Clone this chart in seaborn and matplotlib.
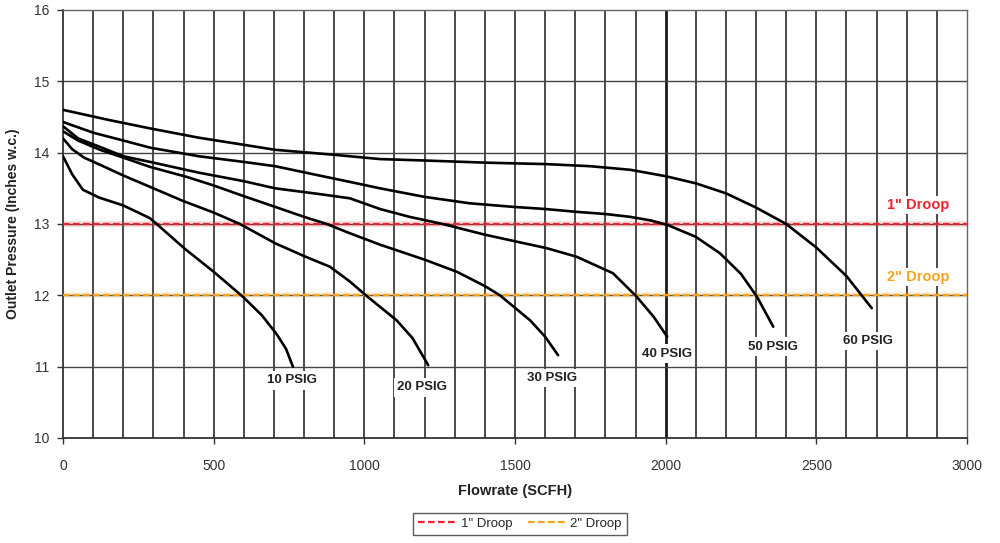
import matplotlib
matplotlib.use("Agg")
import matplotlib.pyplot as plt
import seaborn as sns
import pandas as pd

# Regulator outlet pressure curves, one per inlet pressure
flow_10 = [0, 30, 66, 120, 200, 289, 311, 405, 500, 597, 660, 710, 740, 763]
pres_10 = [13.95, 13.7, 13.48, 13.37, 13.26, 13.08, 13.0, 12.65, 12.33, 11.98, 11.72, 11.45, 11.25, 11.0]

flow_20 = [0, 30, 70, 123, 200, 289, 400, 500, 587, 704, 800, 886, 950, 1008, 1107, 1160, 1212]
pres_20 = [14.2, 14.05, 13.93, 13.83, 13.68, 13.52, 13.32, 13.16, 13.0, 12.73, 12.55, 12.4, 12.2, 11.99, 11.65, 11.4, 11.02]

flow_30 = [0, 50, 123, 200, 289, 411, 500, 600, 704, 800, 875, 952, 1052, 1200, 1307, 1400, 1450, 1550, 1600, 1643]
pres_30 = [14.3, 14.17, 14.04, 13.93, 13.8, 13.66, 13.54, 13.39, 13.24, 13.1, 13.0, 12.87, 12.71, 12.5, 12.33, 12.13, 12.0, 11.65, 11.42, 11.16]

flow_40 = [0, 50, 123, 200, 289, 450, 600, 704, 850, 952, 1052, 1150, 1260, 1400, 1606, 1705, 1825, 1904, 1960, 2005]
pres_40 = [14.37, 14.2, 14.08, 13.95, 13.87, 13.72, 13.6, 13.5, 13.42, 13.36, 13.21, 13.1, 13.0, 12.85, 12.66, 12.54, 12.31, 11.98, 11.7, 11.42]

flow_50 = [0, 100, 200, 289, 450, 600, 704, 850, 952, 1052, 1200, 1350, 1494, 1600, 1705, 1800, 1882, 1950, 2004, 2100, 2180, 2250, 2303, 2357]
pres_50 = [14.43, 14.28, 14.17, 14.07, 13.95, 13.87, 13.81, 13.68, 13.59, 13.5, 13.38, 13.29, 13.24, 13.21, 13.17, 13.14, 13.1, 13.05, 12.99, 12.82, 12.59, 12.3, 11.98, 11.56]

flow_60 = [0, 150, 289, 450, 600, 704, 900, 1052, 1200, 1400, 1600, 1750, 1882, 2000, 2100, 2200, 2300, 2400, 2500, 2600, 2684]
pres_60 = [14.6, 14.46, 14.34, 14.21, 14.11, 14.04, 13.97, 13.91, 13.89, 13.86, 13.84, 13.81, 13.76, 13.67, 13.57, 13.43, 13.23, 13.0, 12.67, 12.27, 11.82]

curve_names = ["10 PSIG", "20 PSIG", "30 PSIG", "40 PSIG", "50 PSIG", "60 PSIG"]
curve_flows = [flow_10, flow_20, flow_30, flow_40, flow_50, flow_60]
curve_pres = [pres_10, pres_20, pres_30, pres_40, pres_50, pres_60]

# Where each curve's name sits (flow, pressure)
label_x = [760, 1192, 1623, 2004, 2357, 2671]
label_y = [10.81, 10.71, 10.84, 11.18, 11.28, 11.36]

droop_levels = [13.0, 12.0]
droop_names = ['1" Droop', '2" Droop']
droop_colors = ["#ee2430", "#f7a41d"]

x_ticks = [0, 500, 1000, 1500, 2000, 2500, 3000]
y_ticks = [10, 11, 12, 13, 14, 15, 16]

sns.set_theme(style="white")
plt.rcParams["font.family"] = ["Liberation Sans", "DejaVu Sans"]

fig = plt.figure(figsize=(10, 5.43), dpi=100)
ax = fig.add_axes([0.063, 0.1934, 0.904, 0.7882])

ax.set_xlim(0, 3000)
ax.set_ylim(10, 16)

# Grid: vertical every 100 SCFH, horizontal every 1 inch
for gx in range(100, 3000, 100):
    ax.axvline(gx, color="#1a1a1a", lw=2.0 if gx == 2000 else 1.1, zorder=1)
for gy in range(11, 16):
    ax.axhline(gy, color="#444444", lw=1.0, zorder=1)

frames = []
for name, fx, py in zip(curve_names, curve_flows, curve_pres):
    frames.append(pd.DataFrame({"flow": fx, "pressure": py, "curve": name}))
df = pd.concat(frames, ignore_index=True)

sns.lineplot(data=df, x="flow", y="pressure", units="curve", estimator=None,
             sort=False, color="black", lw=1.9, ax=ax, zorder=4)

for lvl, nm, col in zip(droop_levels, droop_names, droop_colors):
    ax.axhline(lvl, color=col, lw=4, alpha=0.18, zorder=2)
    ax.axhline(lvl, color=col, lw=1.6, ls=(0, (3, 1.5)), label=nm, zorder=3)

for nm, lx, ly in zip(curve_names, label_x, label_y):
    ax.text(lx, ly, nm, ha="center", va="center", fontsize=9.5, fontweight="bold",
            color="#222222", zorder=5,
            bbox=dict(facecolor="white", edgecolor="none", pad=2.5))

ax.text(2837, 13.27, droop_names[0], ha="center", va="center", fontsize=10.5,
        fontweight="bold", color=droop_colors[0], zorder=5,
        bbox=dict(facecolor="white", edgecolor="none", pad=1.5))
ax.text(2837, 12.26, droop_names[1], ha="center", va="center", fontsize=10.5,
        fontweight="bold", color=droop_colors[1], zorder=5,
        bbox=dict(facecolor="white", edgecolor="none", pad=1.5))

ax.set_xticks(x_ticks)
ax.set_yticks(y_ticks)
ax.tick_params(axis="both", labelsize=10, colors="#333333", length=4,
               width=1, direction="out", bottom=True, left=True)
ax.tick_params(axis="y", pad=6)
ax.tick_params(axis="x", pad=11)

for side in ["left", "bottom"]:
    ax.spines[side].set_color("#333333")
    ax.spines[side].set_linewidth(1.3)
for side in ["top", "right"]:
    ax.spines[side].set_color("#666666")
    ax.spines[side].set_linewidth(1.0)

ax.set_xlabel("Flowrate (SCFH)", fontsize=10.5, fontweight="bold", color="#222222", labelpad=8)
ax.set_ylabel("Outlet Pressure (Inches w.c.)", fontsize=10, fontweight="bold", color="#222222", labelpad=10)

handles, labels = ax.get_legend_handles_labels()
leg = fig.legend(handles, labels, loc="center", bbox_to_anchor=(0.52, 0.035), ncol=2,
                 fontsize=9.5, frameon=True, fancybox=False, edgecolor="#333333",
                 handlelength=2.8, columnspacing=1.2, handletextpad=0.4,
                 borderpad=0.4)
leg.get_frame().set_linewidth(1.0)

fig.savefig("out.png", dpi=100)
